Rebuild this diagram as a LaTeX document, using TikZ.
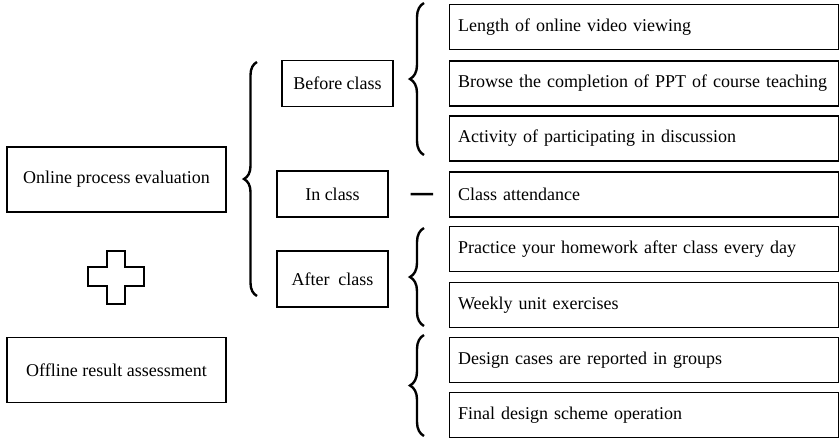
\documentclass[tikz,border=0pt]{standalone}
\usepackage{fontspec}
\setmainfont{Liberation Serif}
\usetikzlibrary{decorations.pathreplacing}
\tikzset{
  txt/.style={font=\fontsize{18}{22}\selectfont},
  mainbox/.style={draw, line width=1.3pt, txt, minimum width=219pt, minimum height=65pt},
  phasebox/.style={draw, line width=1.3pt, txt, minimum width=111pt, minimum height=46pt},
  itembox/.style={draw, line width=1.3pt, txt, anchor=west, text width=372pt, inner xsep=8.5pt,
    inner ysep=11pt, minimum height=45pt, align=left},
  curly/.style={decorate, decoration={brace, amplitude=#1}, line width=2.4pt},
}
\begin{document}
\begin{tikzpicture}[x=1pt, y=1pt]
  \useasboundingbox (0,0) rectangle (839,-440);
  % left column
  \node[mainbox] (online) at (116.5,-179.5) {Online process evaluation};
  \node[mainbox] (offline) at (116.5,-370) {Offline result assessment};
  \draw[line width=2pt] (107,-251) -- (125,-251) -- (125,-267) -- (144,-267)
    -- (144,-286) -- (125,-286) -- (125,-304) -- (107,-304) -- (107,-286)
    -- (88,-286) -- (88,-267) -- (107,-267) -- cycle;
  % phases
  \node[phasebox] (before) at (337.5,-83.5) {Before class};
  \node[phasebox] (in) at (332.5,-194) {In class};
  \node[phasebox, minimum height=56pt] (after) at (332.5,-279) {After\ \ class};
  % items
  \node[itembox] (r1) at (449,-27) {Length of online video viewing};
  \node[itembox] (r2) at (449,-83.5) {Browse the completion of PPT of course teaching};
  \node[itembox] (r3) at (449,-138.5) {Activity of participating in discussion};
  \node[itembox] (r4) at (449,-194.5) {Class attendance};
  \node[itembox] (r5) at (449,-249) {Practice your homework after class every day};
  \node[itembox] (r6) at (449,-305) {Weekly unit exercises};
  \node[itembox] (r7) at (449,-360) {Design cases are reported in groups};
  \node[itembox] (r8) at (449,-415) {Final design scheme operation};
  % braces
  \coordinate (big-lo) at (257,-296);
  \coordinate (big-hi) at (257,-62);
  \coordinate (pre-lo) at (424,-155);
  \coordinate (pre-hi) at (424,-3);
  \coordinate (post-lo) at (424,-326);
  \coordinate (post-hi) at (424,-228);
  \coordinate (off-lo) at (424,-436);
  \coordinate (off-hi) at (424,-335);
  \draw[curly=13pt] (big-lo) -- (big-hi);
  \draw[curly=14pt] (pre-lo) -- (pre-hi);
  \draw[curly=14pt] (post-lo) -- (post-hi);
  \draw[curly=14pt] (off-lo) -- (off-hi);
  \draw[line width=2.5pt, shorten <=22pt, shorten >=16pt] (in) -- (r4);
\end{tikzpicture}
\end{document}
